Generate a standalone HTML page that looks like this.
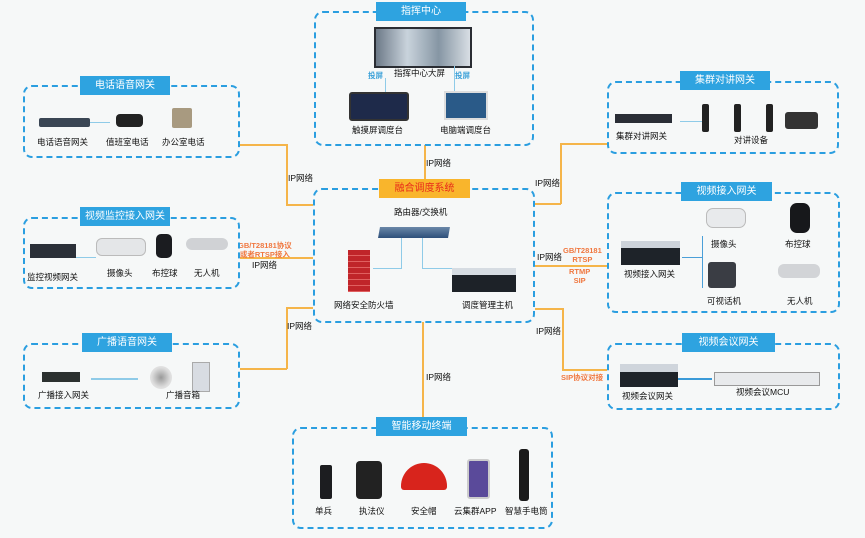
<!DOCTYPE html>
<html><head><meta charset="utf-8"><style>
body{margin:0;width:865px;height:538px;background:#f6f8f8;position:relative;overflow:hidden;font-family:"Liberation Sans","Noto Sans CJK SC",sans-serif;}
.b{position:absolute;border:2px dashed #2a9ee0;border-radius:9px;box-sizing:border-box;}
.t{position:absolute;background:#2ea3e0;color:#fff;font-size:10px;text-align:center;line-height:19px;height:19px;white-space:nowrap;}
.l{position:absolute;font-size:8.5px;color:#111;white-space:nowrap;}
.o{position:absolute;background:#f5b54a;}
.r{position:absolute;font-size:7.5px;color:#f07840;font-weight:bold;text-align:center;line-height:9px;white-space:nowrap;}
.d{position:absolute;}
.bl{position:absolute;background:#8fcbe8;}
</style></head><body>
<!-- connectors -->
<div class="o" style="left:240px;top:144px;width:47px;height:1.5px"></div>
<div class="o" style="left:286px;top:144px;width:1.5px;height:61px"></div>
<div class="o" style="left:286px;top:204px;width:27px;height:1.5px"></div>
<div class="l" style="left:288px;top:172px">IP网络</div>
<div class="o" style="left:424px;top:145px;width:1.5px;height:34px"></div>
<div class="l" style="left:426px;top:157px">IP网络</div>
<div class="o" style="left:560px;top:143px;width:47px;height:1.5px"></div>
<div class="o" style="left:560px;top:143px;width:1.5px;height:61px"></div>
<div class="o" style="left:535px;top:203px;width:26px;height:1.5px"></div>
<div class="l" style="left:535px;top:177px">IP网络</div>
<div class="o" style="left:240px;top:257px;width:73px;height:1.5px"></div>
<div class="r" style="left:238px;top:241px">GB/T28181协议<br>或者RTSP接入</div>
<div class="l" style="left:252px;top:259px">IP网络</div>
<div class="o" style="left:535px;top:265px;width:72px;height:1.5px"></div>
<div class="l" style="left:537px;top:251px">IP网络</div>
<div class="r" style="left:563px;top:246px">GB/T28181<br>RTSP</div>
<div class="r" style="left:569px;top:267px">RTMP<br>SIP</div>
<div class="o" style="left:240px;top:368px;width:47px;height:1.5px"></div>
<div class="o" style="left:286px;top:307px;width:1.5px;height:62px"></div>
<div class="o" style="left:286px;top:307px;width:27px;height:1.5px"></div>
<div class="l" style="left:287px;top:320px">IP网络</div>
<div class="o" style="left:535px;top:308px;width:28px;height:1.5px"></div>
<div class="o" style="left:562px;top:308px;width:1.5px;height:62px"></div>
<div class="o" style="left:562px;top:369px;width:45px;height:2px"></div>
<div class="l" style="left:536px;top:325px">IP网络</div>
<div class="r" style="left:561px;top:373px">SIP协议对接</div>
<div class="o" style="left:422px;top:322px;width:1.5px;height:96px"></div>
<div class="l" style="left:426px;top:371px">IP网络</div>

<!-- 指挥中心 -->
<div class="b" style="left:314px;top:11px;width:220px;height:135px"></div>
<div class="t" style="left:376px;top:2px;width:90px">指挥中心</div>
<div class="d" style="left:374px;top:27px;width:94px;height:37px;background:linear-gradient(90deg,#6d7a88,#c9d3dc,#8696a4,#d8dee4);border:2px solid #2a2d33"></div>
<div class="l" style="left:394px;top:67px">指挥中心大屏</div>
<div class="r" style="left:368px;top:71px;color:#3aa0d8">投屏</div>
<div class="r" style="left:455px;top:71px;color:#3aa0d8">投屏</div>
<div class="bl" style="left:385px;top:78px;width:1px;height:14px"></div>
<div class="bl" style="left:454px;top:66px;width:1px;height:25px"></div>
<div class="d" style="left:349px;top:92px;width:56px;height:25px;background:#1e2a4a;border:2px solid #333;border-radius:3px"></div>
<div class="l" style="left:352px;top:124px">触摸屏调度台</div>
<div class="d" style="left:444px;top:91px;width:40px;height:25px;background:#2a5a88;border:2px solid #ddd"></div>
<div class="l" style="left:440px;top:124px">电脑端调度台</div>

<!-- 电话语音网关 -->
<div class="b" style="left:23px;top:85px;width:217px;height:73px"></div>
<div class="t" style="left:80px;top:76px;width:90px">电话语音网关</div>
<div class="d" style="left:39px;top:118px;width:51px;height:9px;background:#3a4654;border-radius:2px"></div>
<div class="bl" style="left:90px;top:122px;width:20px;height:1px"></div>
<div class="d" style="left:116px;top:114px;width:27px;height:13px;background:#222;border-radius:4px"></div>
<div class="d" style="left:172px;top:108px;width:20px;height:20px;background:#a89a80;border-radius:2px"></div>
<div class="l" style="left:37px;top:136px">电话语音网关</div>
<div class="l" style="left:106px;top:136px">值班室电话</div>
<div class="l" style="left:162px;top:136px">办公室电话</div>

<!-- 集群对讲网关 -->
<div class="b" style="left:607px;top:81px;width:232px;height:73px"></div>
<div class="t" style="left:680px;top:71px;width:90px">集群对讲网关</div>
<div class="d" style="left:615px;top:114px;width:57px;height:9px;background:#2a2e36"></div>
<div class="bl" style="left:680px;top:121px;width:26px;height:1px"></div>
<div class="d" style="left:702px;top:104px;width:7px;height:28px;background:#222;border-radius:2px"></div>
<div class="d" style="left:734px;top:104px;width:7px;height:28px;background:#222;border-radius:2px"></div>
<div class="d" style="left:766px;top:104px;width:7px;height:28px;background:#222;border-radius:2px"></div>
<div class="d" style="left:785px;top:112px;width:33px;height:17px;background:#333;border-radius:3px"></div>
<div class="l" style="left:616px;top:130px">集群对讲网关</div>
<div class="l" style="left:734px;top:134px">对讲设备</div>

<!-- 视频监控接入网关 -->
<div class="b" style="left:23px;top:217px;width:217px;height:72px"></div>
<div class="t" style="left:80px;top:207px;width:90px">视频监控接入网关</div>
<div class="d" style="left:30px;top:244px;width:46px;height:14px;background:#2b3038"></div>
<div class="bl" style="left:76px;top:257px;width:20px;height:1px"></div>
<div class="d" style="left:96px;top:238px;width:48px;height:16px;background:#e4e6e8;border-radius:6px;border:1px solid #bbb"></div>
<div class="d" style="left:156px;top:234px;width:16px;height:24px;background:#1b1c20;border-radius:5px"></div>
<div class="d" style="left:186px;top:238px;width:42px;height:12px;background:#d0d2d5;border-radius:6px"></div>
<div class="l" style="left:27px;top:271px">监控视频网关</div>
<div class="l" style="left:107px;top:267px">摄像头</div>
<div class="l" style="left:152px;top:267px">布控球</div>
<div class="l" style="left:194px;top:267px">无人机</div>

<!-- 融合调度系统 -->
<div class="b" style="left:313px;top:188px;width:222px;height:135px"></div>
<div class="t" style="left:379px;top:179px;width:91px;background:#f9b52c;color:#e8291a">融合调度系统</div>
<div class="l" style="left:394px;top:206px">路由器/交换机</div>
<div class="d" style="left:379px;top:227px;width:70px;height:11px;background:linear-gradient(#6a88a8,#2d4f7a);transform:skewX(-10deg)"></div>
<div class="bl" style="left:401px;top:238px;width:1px;height:31px"></div>
<div class="bl" style="left:373px;top:268px;width:29px;height:1px"></div>
<div class="bl" style="left:422px;top:238px;width:1px;height:31px"></div>
<div class="bl" style="left:422px;top:268px;width:30px;height:1px"></div>
<div class="d" style="left:348px;top:250px;width:22px;height:42px;background:repeating-linear-gradient(#c0252a 0 5px,#e06060 5px 6px)"></div>
<div class="d" style="left:452px;top:268px;width:64px;height:24px;background:linear-gradient(#d6dce2 0 30%,#1d2228 30%)"></div>
<div class="l" style="left:334px;top:299px">网络安全防火墙</div>
<div class="l" style="left:462px;top:299px">调度管理主机</div>

<!-- 视频接入网关 -->
<div class="b" style="left:607px;top:192px;width:233px;height:121px"></div>
<div class="t" style="left:681px;top:182px;width:91px">视频接入网关</div>
<div class="d" style="left:621px;top:241px;width:59px;height:24px;background:linear-gradient(#cdd3da 0 30%,#1e2329 30%)"></div>
<div class="bl" style="left:682px;top:257px;width:20px;height:1px;background:#4a9fd8"></div>
<div class="bl" style="left:702px;top:236px;width:1px;height:52px;background:#4a9fd8"></div>
<div class="d" style="left:706px;top:208px;width:38px;height:18px;background:#e8eaec;border-radius:7px;border:1px solid #bbb"></div>
<div class="d" style="left:790px;top:203px;width:20px;height:30px;background:#17181b;border-radius:7px"></div>
<div class="d" style="left:708px;top:262px;width:28px;height:26px;background:#3a3d44;border-radius:3px"></div>
<div class="d" style="left:778px;top:264px;width:42px;height:14px;background:#d2d4d7;border-radius:6px"></div>
<div class="l" style="left:711px;top:238px">摄像头</div>
<div class="l" style="left:785px;top:238px">布控球</div>
<div class="l" style="left:624px;top:268px">视频接入网关</div>
<div class="l" style="left:707px;top:295px">可视话机</div>
<div class="l" style="left:787px;top:295px">无人机</div>

<!-- 广播语音网关 -->
<div class="b" style="left:23px;top:343px;width:217px;height:66px"></div>
<div class="t" style="left:82px;top:333px;width:90px">广播语音网关</div>
<div class="d" style="left:42px;top:372px;width:38px;height:10px;background:#2c3130"></div>
<div class="bl" style="left:91px;top:378px;width:47px;height:2px"></div>
<div class="d" style="left:150px;top:366px;width:22px;height:23px;background:radial-gradient(#999,#ddd 60%,#eee);border-radius:50%"></div>
<div class="d" style="left:192px;top:362px;width:16px;height:28px;background:#d8dce2;border:1px solid #aaa"></div>
<div class="l" style="left:38px;top:389px">广播接入网关</div>
<div class="l" style="left:166px;top:389px">广播音箱</div>

<!-- 视频会议网关 -->
<div class="b" style="left:607px;top:343px;width:233px;height:67px"></div>
<div class="t" style="left:682px;top:333px;width:93px">视频会议网关</div>
<div class="d" style="left:620px;top:364px;width:58px;height:23px;background:linear-gradient(#cfd5dc 0 35%,#1e2329 35%)"></div>
<div class="bl" style="left:678px;top:378px;width:34px;height:2px;background:#3a9ad8"></div>
<div class="d" style="left:714px;top:372px;width:104px;height:12px;background:#e8eaec;border:1px solid #999"></div>
<div class="l" style="left:622px;top:390px">视频会议网关</div>
<div class="l" style="left:736px;top:386px">视频会议MCU</div>

<!-- 智能移动终端 -->
<div class="b" style="left:292px;top:427px;width:261px;height:102px"></div>
<div class="t" style="left:376px;top:417px;width:91px">智能移动终端</div>
<div class="d" style="left:320px;top:465px;width:12px;height:34px;background:#1c1d20;border-radius:2px"></div>
<div class="d" style="left:356px;top:461px;width:26px;height:38px;background:#222;border-radius:4px"></div>
<div class="d" style="left:401px;top:463px;width:46px;height:27px;background:#d8241c;border-radius:23px 23px 3px 3px"></div>
<div class="d" style="left:467px;top:459px;width:19px;height:36px;background:#5a4a9a;border:2px solid #ccc;border-radius:3px"></div>
<div class="d" style="left:519px;top:449px;width:10px;height:52px;background:#1a1a1a;border-radius:3px"></div>
<div class="l" style="left:315px;top:505px">单兵</div>
<div class="l" style="left:359px;top:505px">执法仪</div>
<div class="l" style="left:411px;top:505px">安全帽</div>
<div class="l" style="left:454px;top:505px">云集群APP</div>
<div class="l" style="left:505px;top:505px">智慧手电筒</div>
</body></html>
